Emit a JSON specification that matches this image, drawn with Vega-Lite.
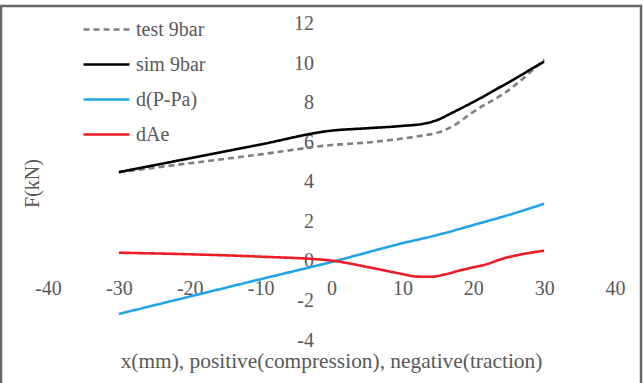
{
  "$schema": "https://vega.github.io/schema/vega-lite/v6.json",
  "width": 640,
  "height": 380,
  "autosize": {"type": "none"},
  "padding": {"left": 1, "top": 6, "right": 2, "bottom": 0},
  "background": "white",
  "config": {
    "view": {"stroke": "#666666", "strokeWidth": 2.5},
    "font": "Liberation Serif",
    "legend": {
      "symbolType": "stroke",
      "symbolSize": 2116,
      "symbolStrokeWidth": 2.5,
      "labelFont": "Liberation Serif",
      "labelFontSize": 20,
      "labelColor": "#595959",
      "labelOffset": 5,
      "rowPadding": -1,
      "padding": 0
    }
  },
  "datasets": {
    "series": [
      {"series": "test 9bar", "x": -30, "y": 4.5},
      {"series": "test 9bar", "x": -20, "y": 4.95},
      {"series": "test 9bar", "x": -10, "y": 5.4},
      {"series": "test 9bar", "x": 0, "y": 5.87},
      {"series": "test 9bar", "x": 5, "y": 6.0},
      {"series": "test 9bar", "x": 10, "y": 6.2},
      {"series": "test 9bar", "x": 13, "y": 6.36},
      {"series": "test 9bar", "x": 15, "y": 6.5},
      {"series": "test 9bar", "x": 17, "y": 6.8},
      {"series": "test 9bar", "x": 20, "y": 7.55},
      {"series": "test 9bar", "x": 25, "y": 8.65},
      {"series": "test 9bar", "x": 30, "y": 10.2},
      {"series": "sim 9bar", "x": -30, "y": 4.5},
      {"series": "sim 9bar", "x": -20, "y": 5.2},
      {"series": "sim 9bar", "x": -10, "y": 5.9},
      {"series": "sim 9bar", "x": 0, "y": 6.6},
      {"series": "sim 9bar", "x": 5, "y": 6.72},
      {"series": "sim 9bar", "x": 10, "y": 6.84},
      {"series": "sim 9bar", "x": 13, "y": 6.95},
      {"series": "sim 9bar", "x": 15, "y": 7.15},
      {"series": "sim 9bar", "x": 17, "y": 7.5},
      {"series": "sim 9bar", "x": 20, "y": 8.05},
      {"series": "sim 9bar", "x": 25, "y": 9.05},
      {"series": "sim 9bar", "x": 30, "y": 10.1},
      {"series": "d(P-Pa)", "x": -30, "y": -2.68},
      {"series": "d(P-Pa)", "x": -20, "y": -1.8},
      {"series": "d(P-Pa)", "x": -10, "y": -0.92},
      {"series": "d(P-Pa)", "x": 0, "y": -0.05},
      {"series": "d(P-Pa)", "x": 10, "y": 0.9},
      {"series": "d(P-Pa)", "x": 15, "y": 1.32},
      {"series": "d(P-Pa)", "x": 20, "y": 1.82},
      {"series": "d(P-Pa)", "x": 25, "y": 2.33},
      {"series": "d(P-Pa)", "x": 30, "y": 2.9},
      {"series": "dAe", "x": -30, "y": 0.42},
      {"series": "dAe", "x": -20, "y": 0.34},
      {"series": "dAe", "x": -10, "y": 0.22},
      {"series": "dAe", "x": 0, "y": 0.02},
      {"series": "dAe", "x": 5, "y": -0.3},
      {"series": "dAe", "x": 10, "y": -0.66},
      {"series": "dAe", "x": 12, "y": -0.79},
      {"series": "dAe", "x": 14, "y": -0.8},
      {"series": "dAe", "x": 16, "y": -0.68},
      {"series": "dAe", "x": 18, "y": -0.49},
      {"series": "dAe", "x": 20, "y": -0.32},
      {"series": "dAe", "x": 22, "y": -0.15},
      {"series": "dAe", "x": 24, "y": 0.1},
      {"series": "dAe", "x": 27, "y": 0.35},
      {"series": "dAe", "x": 30, "y": 0.52}
    ]
  },
  "layer": [
    {
      "mark": {"type": "rule", "color": "#c8c8c8", "strokeWidth": 1.5},
      "encoding": {
        "x": {"datum": -40, "type": "quantitative"},
        "x2": {"datum": 40},
        "y": {"datum": 0, "type": "quantitative"}
      }
    },
    {
      "mark": {"type": "rule", "color": "#c8c8c8", "strokeWidth": 1.5},
      "encoding": {
        "x": {"datum": 0, "type": "quantitative"},
        "y": {"datum": -4, "type": "quantitative"},
        "y2": {"datum": 12}
      }
    },
    {
      "data": {"name": "series"},
      "mark": {"type": "line", "interpolate": "monotone", "strokeWidth": 2.6, "clip": false},
      "encoding": {
        "x": {
          "field": "x",
          "type": "quantitative",
          "scale": {"domain": [-46.631, 43.668], "nice": false, "zero": false},
          "axis": {
            "orient": "bottom",
            "offset": -125,
            "values": [-40, -30, -20, -10, 0, 10, 20, 30, 40],
            "labelExpr": "'' + datum.value",
            "domain": false,
            "ticks": false,
            "grid": false,
            "labelFont": "Liberation Serif",
            "labelFontSize": 20,
            "labelColor": "#595959",
            "labelPadding": 17,
            "labelFlush": false,
            "labelOverlap": false,
            "title": "x(mm), positive(compression), negative(traction)",
            "titleFont": "Liberation Serif",
            "titleFontSize": 21.4,
            "titleFontWeight": "normal",
            "titleColor": "#595959",
            "titleX": 330,
            "titleY": 106,
            "titleAlign": "center",
            "titleBaseline": "alphabetic"
          }
        },
        "y": {
          "field": "y",
          "type": "quantitative",
          "scale": {"domain": [-6.329, 12.911], "nice": false, "zero": false},
          "axis": {
            "orient": "left",
            "offset": -330.5,
            "values": [-4, -2, 0, 2, 4, 6, 8, 10, 12],
            "labelExpr": "'' + datum.value",
            "domain": false,
            "ticks": false,
            "grid": false,
            "labelFont": "Liberation Serif",
            "labelFontSize": 20,
            "labelColor": "#595959",
            "labelPadding": 18,
            "labelOverlap": false,
            "title": "F(kN)",
            "titleFont": "Liberation Serif",
            "titleFontSize": 20,
            "titleFontWeight": "normal",
            "titleColor": "#595959",
            "titleX": -299,
            "titleY": 177,
            "titleAngle": -90,
            "titleAlign": "center",
            "titleBaseline": "middle"
          }
        },
        "color": {
          "field": "series",
          "type": "nominal",
          "scale": {
            "domain": ["test 9bar", "sim 9bar", "d(P-Pa)", "dAe"],
            "range": ["#7f7f7f", "#000000", "#22a5e6", "#ee1c25"]
          },
          "legend": {"orient": "none", "legendX": 81, "legendY": -1, "title": null}
        },
        "strokeDash": {
          "field": "series",
          "type": "nominal",
          "scale": {
            "domain": ["test 9bar", "sim 9bar", "d(P-Pa)", "dAe"],
            "range": [[6, 4], [1, 0], [1, 0], [1, 0]]
          },
          "legend": {"orient": "none", "legendX": 81, "legendY": -1, "title": null}
        }
      }
    }
  ]
}
